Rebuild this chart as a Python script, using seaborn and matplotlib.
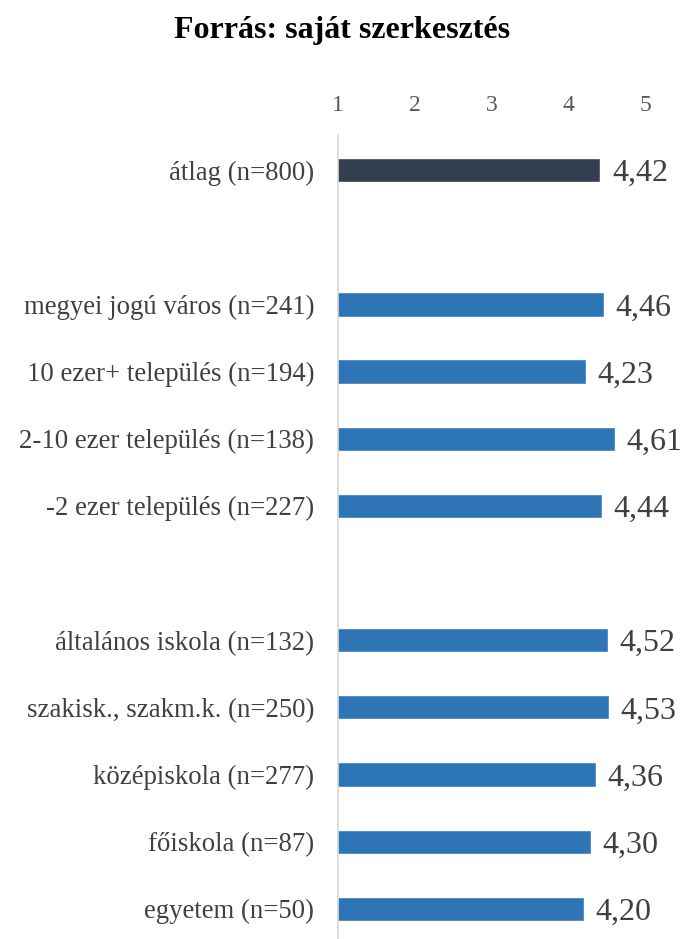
import pandas as pd
import matplotlib.pyplot as plt
import seaborn as sns

# data
categories = ['átlag (n=800)',
              'megyei jogú város (n=241)', '10 ezer+ település (n=194)',
              '2-10 ezer település (n=138)', '-2 ezer település (n=227)',
              'általános iskola (n=132)', 'szakisk., szakm.k. (n=250)',
              'középiskola (n=277)', 'főiskola (n=87)', 'egyetem (n=50)']
values = [4.42, 4.46, 4.23, 4.61, 4.44, 4.52, 4.53, 4.36, 4.30, 4.20]
groups = ['avg'] + ['sub'] * 9
# blank rows between the blocks
order = [categories[0], ' '] + categories[1:5] + ['  '] + categories[5:]

df = pd.DataFrame({'cat': categories, 'val': values, 'grp': groups})

#plot setting
sns.set_theme(style='white')
plt.rcParams['font.family'] = ['Liberation Serif', 'DejaVu Serif']

fig = plt.figure(figsize=(6.84, 9.39), dpi=100)
ax = fig.add_axes([0.494, 0.0, 0.449, 0.856])

sns.barplot(data=df, x='val', y='cat', hue='grp', order=order, orient='h',
            palette={'avg': '#333F50', 'sub': '#2E75B6'}, width=0.36,
            saturation=1, legend=False, ax=ax)

# value labels with decimal comma
for c, v in zip(categories, values):
    ax.text(v + 0.15, order.index(c), f'{v:.2f}'.replace('.', ','),
            va='center_baseline', ha='left', fontsize=23, color='#404040')

# Design the layout
ax.set_xlim(1, 5)
ax.set_ylim(11.45, -0.52)
ax.xaxis.tick_top()
ax.set_xticks([1, 2, 3, 4, 5])
ax.tick_params(axis='x', length=0, pad=14, labelsize=17, labelcolor='#595959')
ax.tick_params(axis='y', length=0, pad=17, labelsize=19.3, labelcolor='#404040')
ax.set_xlabel('')
ax.set_ylabel('')
for s in ['top', 'right', 'bottom']:
    ax.spines[s].set_visible(False)
ax.spines['left'].set_color('#D9D9D9')
ax.spines['left'].set_linewidth(1.2)

fig.suptitle('Forrás: saját szerkesztés', y=0.983, fontsize=23,
             fontweight='bold', color='black')
fig.savefig('out.png', dpi=100)
